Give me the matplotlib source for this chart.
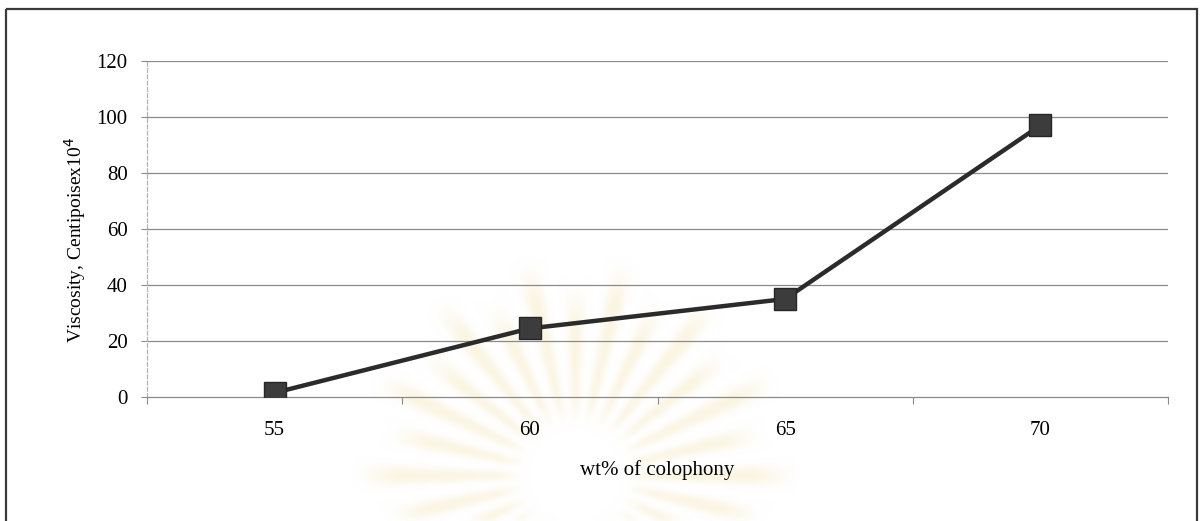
import numpy as np
import matplotlib
matplotlib.use("Agg")
import matplotlib.pyplot as plt
from matplotlib.patches import Rectangle

# Data
categories = ["55", "60", "65", "70"]
viscosity = [1.5, 24.5, 35.0, 97.0]
y_ticks = [0, 20, 40, 60, 80, 100, 120]

W, H = 1201, 521
fig = plt.figure(figsize=(W / 100, H / 100), dpi=100)
fig.patch.set_facecolor("white")

# Background layer in pixel coordinates: faint seal watermark and outer frame
bg = fig.add_axes([0, 0, 1, 1], zorder=0)
bg.set_xlim(0, W)
bg.set_ylim(H, 0)
bg.axis("off")

cx, cy = 575, 475
yy, xx = np.mgrid[0:H, 0:W].astype(float)
dx, dy = xx - cx, yy - cy
r = np.hypot(dx, dy)
theta = np.arctan2(dy, dx)
n_rays = 28
rays = np.clip(np.cos(theta * n_rays / 2) ** 2 * 1.6 - 0.5, 0, 1)
long_ray = 0.5 + 0.5 * (np.cos(theta * n_rays / 4) ** 2)
outer = 160 + 60 * long_ray
radial = np.clip((r - 50) / 25, 0, 1) * np.clip((outer - r) / 40, 0, 1)
mask = rays * radial


def box_blur(a, k):
    kern = np.ones(k) / k
    a = np.apply_along_axis(lambda m: np.convolve(m, kern, mode="same"), 1, a)
    a = np.apply_along_axis(lambda m: np.convolve(m, kern, mode="same"), 0, a)
    return a


mask = box_blur(mask, 9) * 0.45
cream = np.array([246, 232, 190]) / 255.0
img = np.ones((H, W, 3)) - mask[..., None] * (1 - cream)[None, None, :]
bg.imshow(img, extent=(0, W, H, 0), aspect="auto", interpolation="bilinear", zorder=0)

bg.add_patch(Rectangle((6, 9), 1191, 540, fill=False, edgecolor="#3a3a3a",
                       linewidth=1.6, clip_on=False, zorder=2))

# Main chart
font = ["Liberation Serif", "DejaVu Serif"]
ax = fig.add_axes([147 / W, 1 - 397 / H, (1168 - 147) / W, (397 - 61) / H], zorder=1)
ax.set_facecolor("none")

x = np.arange(len(categories))
ax.set_xlim(-0.5, len(categories) - 0.5)
ax.set_ylim(0, 120)

for yv in y_ticks[1:]:
    ax.axhline(yv, color="#8a8a8a", linewidth=0.9, zorder=1)

ax.plot(x, viscosity, color="#2b2b2b", linewidth=3.2, zorder=3,
        marker="s", markersize=15.5, markerfacecolor="#3c3c3c",
        markeredgecolor="#262626", markeredgewidth=1.0)

for side in ["top", "right"]:
    ax.spines[side].set_visible(False)
ax.spines["left"].set_color("#b5b5b5")
ax.spines["left"].set_linewidth(0.9)
ax.spines["left"].set_linestyle((0, (3, 2)))
ax.spines["bottom"].set_color("#8a8a8a")
ax.spines["bottom"].set_linewidth(0.9)

ax.set_yticks(y_ticks)
ax.set_yticklabels([str(v) for v in y_ticks], family=font, fontsize=15)
ax.tick_params(axis="y", length=4, width=0.8, color="#8a8a8a", pad=10)

# Tick marks at category boundaries, labels at category centres
ax.set_xticks(np.arange(-0.5, len(categories), 1.0))
ax.set_xticklabels([])
ax.tick_params(axis="x", which="major", length=5, width=0.8, color="#8a8a8a")
ax.set_xticks(x, minor=True)
ax.set_xticklabels(categories, minor=True, family=font, fontsize=15)
ax.tick_params(axis="x", which="minor", length=0, pad=17)

ax.set_xlabel("wt% of colophony", family=font, fontsize=15)
ax.xaxis.set_label_coords(0.5, -(460 - 397) / (397 - 61))
ax.set_ylabel("Viscosity, Centipoisex10$^{4}$", family=font, fontsize=14)
ax.yaxis.set_label_coords(-(147 - 88) / (1168 - 147), (397 - 240) / (397 - 61))

fig.savefig("out.png", dpi=100)
